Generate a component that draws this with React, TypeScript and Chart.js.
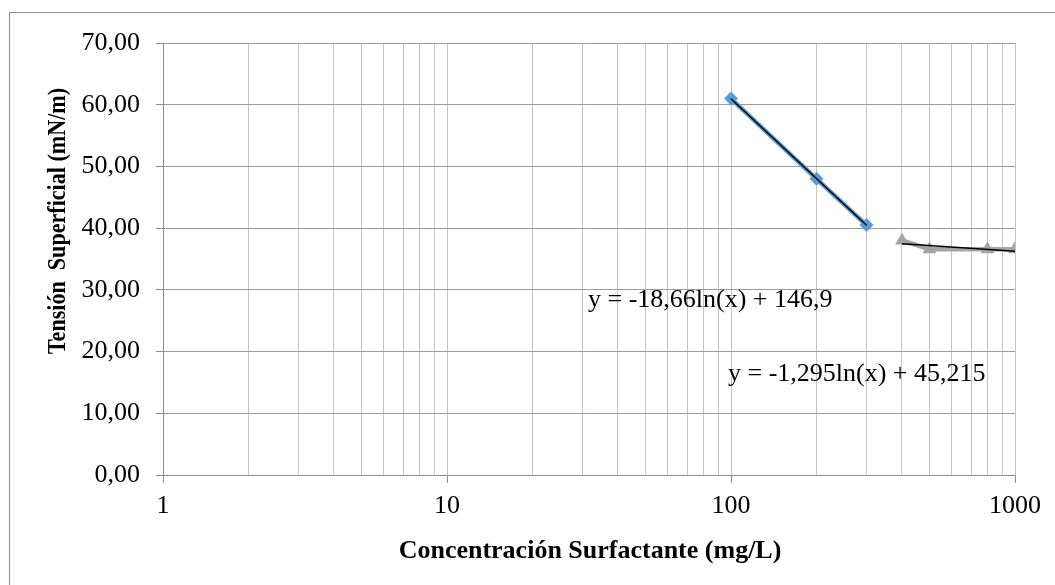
import React, { useEffect, useRef } from "react";
import { Chart, registerables } from "chart.js";

Chart.register(...registerables);

// Surfactant concentration (mg/L) and surface tension (mN/m)
const concentrationLow = [100, 200, 300];
const tensionLow = [61.0, 48.0, 40.5];
const concentrationHigh = [400, 500, 800, 1000];
const tensionHigh = [38.0, 36.6, 36.6, 36.6];

// Logarithmic fits y = a·ln(x) + b
const fitLow = [-18.66, 146.9];
const fitHigh = [-1.295, 45.215];

// Axis ticks
const xDecades = [1, 10, 100, 1000];
const xMinorSteps = [1, 2, 3, 4, 5, 6, 7, 8, 9];
const yTicks = [0, 10, 20, 30, 40, 50, 60, 70];

const xTitle = "Concentración Surfactante (mg/L)";
const yTitle = "Tensión  Superficial (mN/m)";

const FONT = "'Liberation Serif', 'Times New Roman', serif";
const BLUE = "#5b9bd5";
const GRAY = "#a5a5a5";

const commaNum = (v: number) => String(v).replace(".", ",");
const equation = (fit: number[]) =>
  `y = ${commaNum(fit[0])}ln(x) + ${commaNum(fit[1])}`;

const fitLine = (fit: number[], xs: number[]) => {
  const lo = Math.min(...xs);
  const hi = Math.max(...xs);
  return [lo, hi].map((x) => ({ x, y: fit[0] * Math.log(x) + fit[1] }));
};

const xGridValues: number[] = [];
xDecades.forEach((d, i) => {
  if (i === xDecades.length - 1) {
    xGridValues.push(d);
  } else {
    xMinorSteps.forEach((m) => xGridValues.push(d * m));
  }
});

const decorPlugin = {
  id: "decor",
  beforeDraw(chart: any) {
    const ctx = chart.ctx;
    ctx.save();
    ctx.fillStyle = "#ffffff";
    ctx.fillRect(0, 0, chart.width, chart.height);
    ctx.strokeStyle = "#8c8c8c";
    ctx.lineWidth = 1;
    ctx.beginPath();
    ctx.moveTo(9.5, chart.height);
    ctx.lineTo(9.5, 12.5);
    ctx.lineTo(chart.width, 12.5);
    ctx.stroke();
    ctx.restore();
  },
  afterDraw(chart: any) {
    const ctx = chart.ctx;
    ctx.save();
    ctx.fillStyle = "#000000";
    ctx.textAlign = "center";
    ctx.textBaseline = "middle";
    // axis titles
    ctx.font = `bold 26px ${FONT}`;
    ctx.fillText(xTitle, 590, 551);
    ctx.translate(58, 221);
    ctx.rotate(-Math.PI / 2);
    ctx.scale(0.85, 1);
    ctx.fillText(yTitle, 0, 0);
    ctx.restore();

    // trendline equations
    ctx.save();
    ctx.fillStyle = "#000000";
    ctx.font = `26px ${FONT}`;
    ctx.textAlign = "left";
    ctx.textBaseline = "middle";
    ctx.fillText(equation(fitLow), 588, 300);
    ctx.fillText(equation(fitHigh), 728, 374);
    ctx.restore();
  },
};

export default function App() {
  const ref = useRef<HTMLCanvasElement | null>(null);

  useEffect(() => {
    if (!ref.current) return;
    const chart = new Chart(ref.current, {
      type: "scatter",
      data: {
        datasets: [
          {
            label: "Ajuste 1",
            data: fitLine(fitLow, concentrationLow),
            showLine: true,
            borderColor: "#000000",
            borderWidth: 1.5,
            pointRadius: 0,
            order: 0,
          },
          {
            label: "Ajuste 2",
            data: fitLine(fitHigh, concentrationHigh),
            showLine: true,
            borderColor: "#000000",
            borderWidth: 1.5,
            pointRadius: 0,
            order: 0,
          },
          {
            label: "Serie 1",
            data: concentrationLow.map((x, i) => ({ x, y: tensionLow[i] })),
            showLine: true,
            borderColor: BLUE,
            backgroundColor: BLUE,
            borderWidth: 4.5,
            pointStyle: "rectRot",
            pointRadius: 7,
            pointBorderWidth: 0,
            order: 1,
          },
          {
            label: "Serie 2",
            data: concentrationHigh.map((x, i) => ({ x, y: tensionHigh[i] })),
            showLine: true,
            borderColor: GRAY,
            backgroundColor: GRAY,
            borderWidth: 4.5,
            pointStyle: "triangle",
            pointRadius: 8,
            pointBorderWidth: 0,
            order: 1,
          },
        ],
      },
      options: {
        animation: false,
        responsive: false,
        devicePixelRatio: 1,
        layout: { padding: { top: 43, right: 40, left: 0, bottom: 0 } },
        plugins: {
          legend: { display: false },
          tooltip: { enabled: false },
        },
        scales: {
          x: {
            type: "logarithmic",
            min: 1,
            max: 1000,
            afterBuildTicks: (scale: any) => {
              scale.ticks = xGridValues.map((value) => ({ value }));
            },
            afterFit: (scale: any) => {
              scale.height = 110;
            },
            ticks: {
              autoSkip: false,
              maxRotation: 0,
              padding: 8,
              color: "#000000",
              font: { family: FONT, size: 26 },
              callback: (v: any) =>
                xDecades.includes(Number(v)) ? String(v) : "",
            },
            grid: {
              color: "#c4c4c4",
              lineWidth: 1,
              tickLength: 8,
              tickColor: (ctx: any) =>
                ctx.tick && xDecades.includes(ctx.tick.value)
                  ? "#8c8c8c"
                  : "rgba(0,0,0,0)",
            },
            border: { color: "#8c8c8c", width: 1 },
          },
          y: {
            type: "linear",
            min: yTicks[0],
            max: yTicks[yTicks.length - 1],
            afterBuildTicks: (scale: any) => {
              scale.ticks = yTicks.map((value) => ({ value }));
            },
            afterFit: (scale: any) => {
              scale.width = 163;
            },
            ticks: {
              padding: 16,
              color: "#000000",
              font: { family: FONT, size: 26 },
              callback: (v: any) => Number(v).toFixed(2).replace(".", ","),
            },
            grid: {
              color: "#9c9c9c",
              lineWidth: 1,
              tickLength: 7,
              tickColor: "#8c8c8c",
            },
            border: { color: "#8c8c8c", width: 1 },
          },
        },
      },
      plugins: [decorPlugin],
    });
    return () => chart.destroy();
  }, []);

  return (
    <div
      style={{
        position: "fixed",
        left: 0,
        top: 0,
        width: 1055,
        height: 585,
        background: "#ffffff",
      }}
    >
      <canvas ref={ref} width={1055} height={585} />
    </div>
  );
}
